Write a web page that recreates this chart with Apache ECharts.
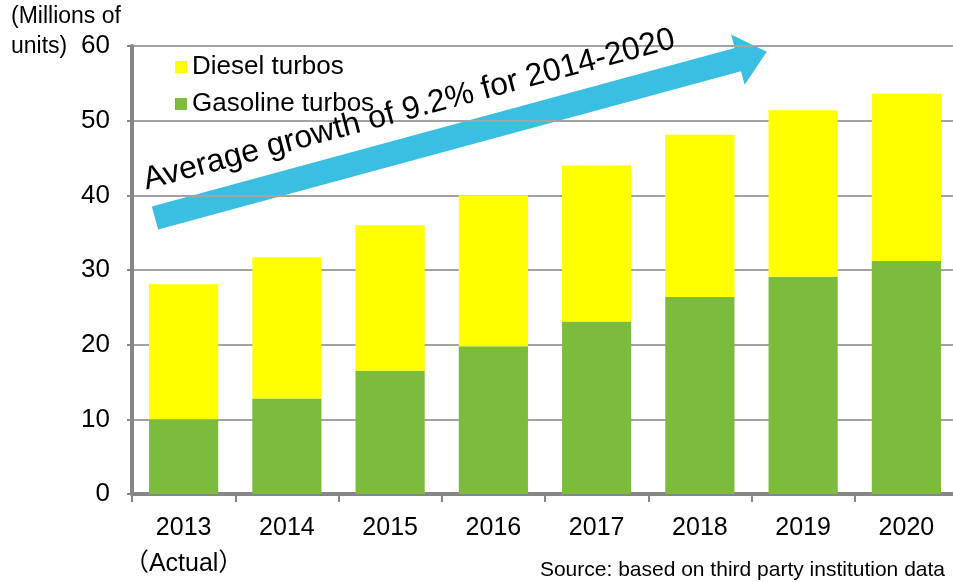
<!DOCTYPE html>
<html>
<head>
<meta charset="utf-8">
<script src="https://cdn.jsdelivr.net/npm/echarts@6/dist/echarts.min.js"></script>
<style>
  html, body { margin: 0; padding: 0; background: #fff; overflow: hidden; }
  #chart { width: 962px; height: 582px; }
</style>
</head>
<body>
<div id="chart"></div>
<script>
// data
const years = ['2013\n（Actual）', '2014', '2015', '2016', '2017', '2018', '2019', '2020']
const gasoline = [10.0, 12.8, 16.5, 19.8, 23.1, 26.4, 29.1, 31.2]
const diesel = [18.1, 18.9, 19.5, 20.2, 20.9, 21.7, 22.3, 22.4]
const seriesNames = ['Gasoline turbos', 'Diesel turbos']

const FONT = '"Liberation Sans", Arial, "Noto Sans CJK JP", sans-serif'
const axisGray = '#868686'

const chart = echarts.init(document.getElementById('chart'))

// arrow geometry (decoration only)
const arrowLen = 634
const arrowAngle = 15.2 * Math.PI / 180

const option = {
  animation: false,
  textStyle: { fontFamily: FONT, color: '#000' },
  grid: { left: 132, top: 46, right: 4, bottom: 86 },
  legend: {
    orient: 'vertical',
    left: 170,
    top: 49,
    icon: 'rect',
    itemWidth: 12,
    itemHeight: 12,
    itemGap: 11,
    data: [seriesNames[1], seriesNames[0]],
    textStyle: { fontFamily: FONT, fontSize: 26, lineHeight: 25, color: '#000' }
  },
  xAxis: {
    type: 'category',
    data: years,
    axisLine: { lineStyle: { color: axisGray, width: 4 } },
    axisTick: { show: true, length: 8, lineStyle: { color: axisGray, width: 2 } },
    axisLabel: { interval: 0, color: '#000', fontSize: 25, lineHeight: 36, margin: 16, fontFamily: FONT }
  },
  yAxis: {
    type: 'value',
    min: 0,
    max: 60,
    interval: 10,
    axisLine: { show: true, lineStyle: { color: axisGray, width: 4 } },
    axisTick: { show: true, length: 5, lineStyle: { color: axisGray, width: 2 } },
    axisLabel: { color: '#000', fontSize: 26, margin: 22, fontFamily: FONT },
    splitLine: { lineStyle: { color: '#A3A3A3', width: 2 } }
  },
  series: [
    {
      name: seriesNames[0],
      type: 'bar',
      stack: 'turbo',
      barCategoryGap: '33%',
      itemStyle: { color: '#7DBB3D' },
      data: gasoline
    },
    {
      name: seriesNames[1],
      type: 'bar',
      stack: 'turbo',
      barCategoryGap: '33%',
      itemStyle: { color: '#FFFF00' },
      data: diesel
    }
  ],
  graphic: [
    {
      type: 'text',
      left: 11,
      top: 2,
      style: { text: '(Millions of\nunits)', font: '23px ' + FONT, lineHeight: 30, fill: '#000' }
    },
    {
      type: 'text',
      x: 945,
      y: 581,
      style: {
        text: 'Source: based on third party institution data',
        font: '21px ' + FONT,
        fill: '#000',
        align: 'right',
        verticalAlign: 'bottom'
      }
    },
    {
      type: 'group',
      x: 155,
      y: 218,
      rotation: arrowAngle,
      z: 10,
      children: [
        {
          type: 'polygon',
          shape: {
            points: [
              [0, -12], [arrowLen - 30, -12], [arrowLen - 30, -26], [arrowLen, 0],
              [arrowLen - 30, 26], [arrowLen - 30, 12], [0, 12]
            ]
          },
          style: { fill: '#3ABFE3' }
        }
      ]
    },
    {
      type: 'text',
      x: 144,
      y: 181,
      rotation: 15 * Math.PI / 180,
      z: 11,
      style: {
        text: 'Average growth of 9.2% for 2014-2020',
        font: '32px ' + FONT,
        fill: '#000',
        align: 'left',
        verticalAlign: 'middle'
      }
    }
  ]
}

chart.setOption(option)
</script>
</body>
</html>
